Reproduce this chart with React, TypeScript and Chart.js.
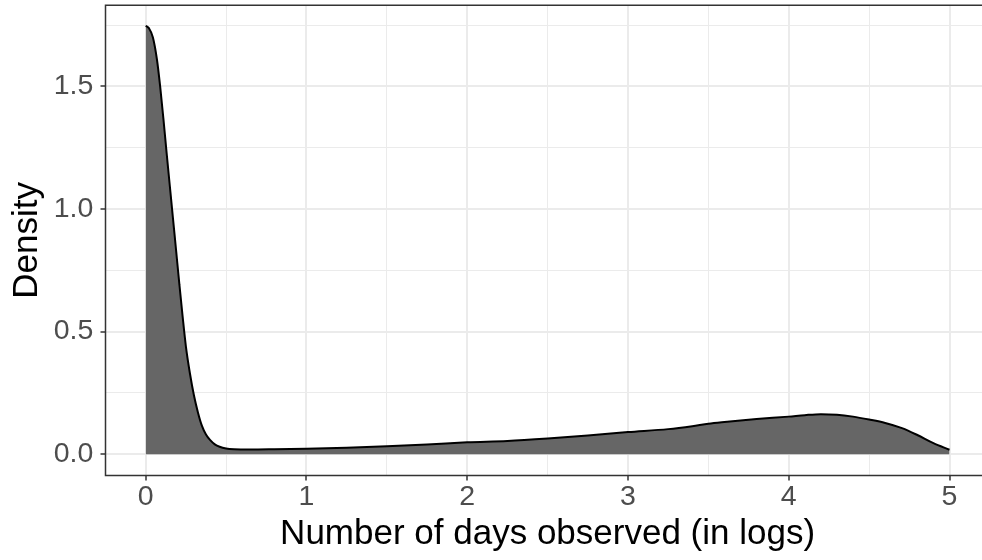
import React, { useEffect, useRef } from "react";
import { Chart, registerables } from "chart.js";

Chart.register(...registerables);

// Density curve (x = log number of days, y = density)
const xValues = [
  0, 0.02, 0.045, 0.07, 0.09, 0.11, 0.13, 0.15, 0.17, 0.19, 0.21, 0.23, 0.25, 0.275, 0.3,
  0.325, 0.35, 0.375, 0.4, 0.43, 0.46, 0.5, 0.55, 0.65, 0.8, 1.0, 1.25, 1.5, 1.75,
  2.0, 2.25, 2.5, 2.75, 3.0, 3.25, 3.4, 3.5, 3.6, 3.8, 4.0, 4.1, 4.2, 4.3, 4.4, 4.5,
  4.6, 4.7, 4.8, 4.9, 5.0,
];
const densityValues = [
  1.748, 1.738, 1.7, 1.61, 1.5, 1.37, 1.23, 1.095, 0.96, 0.825, 0.69, 0.56, 0.44, 0.33, 0.24,
  0.17, 0.115, 0.08, 0.058, 0.04, 0.03, 0.023, 0.02, 0.019, 0.02, 0.022, 0.026, 0.032, 0.039,
  0.048, 0.054, 0.064, 0.076, 0.09, 0.102, 0.114, 0.124, 0.131, 0.143, 0.153, 0.159, 0.163, 0.161, 0.153, 0.141,
  0.127, 0.107, 0.078, 0.045, 0.018,
];

const xGridValues = [0, 0.5, 1, 1.5, 2, 2.5, 3, 3.5, 4, 4.5, 5];
const xMajorTicks = [0, 1, 2, 3, 4, 5];
const yGridValues = [0, 0.25, 0.5, 0.75, 1, 1.25, 1.5, 1.75];
const yMajorTicks = [0, 0.5, 1, 1.5];

const xTitle = "Number of days observed (in logs)";
const yTitle = "Density";

const FONT = "'Liberation Sans', Arial, Helvetica, sans-serif";

const isMajor = (list: number[], v: number) => list.some((m) => Math.abs(m - v) < 1e-9);

// Panel border: top, left and bottom edges (the right edge lies outside the visible picture)
const panelBorder = {
  id: "panelBorder",
  afterDatasetsDraw(chart: any) {
    const { ctx, chartArea } = chart;
    const { left, right, top, bottom } = chartArea;
    ctx.save();
    ctx.strokeStyle = "#333333";
    ctx.lineWidth = 1.5;
    ctx.beginPath();
    ctx.moveTo(right, top);
    ctx.lineTo(left, top);
    ctx.lineTo(left, bottom);
    ctx.lineTo(right, bottom);
    ctx.stroke();
    ctx.restore();
  },
};

export default function App() {
  const ref = useRef<HTMLCanvasElement | null>(null);

  useEffect(() => {
    if (!ref.current) return;
    const chart = new Chart(ref.current, {
      type: "line",
      data: {
        datasets: [
          {
            data: xValues.map((x, i) => ({ x, y: densityValues[i] })),
            borderColor: "#000000",
            borderWidth: 2,
            backgroundColor: "#666666",
            fill: "origin",
            pointRadius: 0,
            cubicInterpolationMode: "monotone",
          },
        ],
      },
      options: {
        animation: false,
        responsive: false,
        devicePixelRatio: 1,
        layout: { padding: { top: 5.3, right: 10.3, left: 0, bottom: 0 } },
        plugins: { legend: { display: false }, tooltip: { enabled: false }, title: { display: false } },
        scales: {
          x: {
            type: "linear",
            min: -0.25,
            max: 5.25,
            afterBuildTicks: (scale: any) => {
              scale.ticks = xGridValues.map((v) => ({ value: v }));
            },
            afterFit: (scale: any) => {
              scale.height = 84.5;
              scale.paddingLeft = 0;
              scale.paddingRight = 0;
            },
            ticks: {
              autoSkip: false,
              maxRotation: 0,
              padding: 0,
              color: "#4D4D4D",
              font: { family: FONT, size: 28.5, lineHeight: 1.2 },
              callback: (v: any) => (isMajor(xMajorTicks, Number(v)) ? String(Number(v)) : ""),
            },
            grid: {
              color: "#EBEBEB",
              lineWidth: (c: any) => (c.tick && isMajor(xMajorTicks, c.tick.value) ? 2 : 1),
              tickColor: (c: any) => (c.tick && isMajor(xMajorTicks, c.tick.value) ? "#333333" : "rgba(0,0,0,0)"),
              tickWidth: 1.5,
              tickLength: 5,
              drawTicks: true,
            },
            border: { display: false },
            title: {
              display: true,
              text: xTitle,
              color: "#000000",
              font: { family: FONT, size: 35, lineHeight: 1 },
              padding: { top: 0, bottom: 8.5 },
            },
          },
          y: {
            type: "linear",
            min: -0.0872,
            max: 1.8312,
            afterBuildTicks: (scale: any) => {
              scale.ticks = yGridValues.map((v) => ({ value: v }));
            },
            afterFit: (scale: any) => {
              scale.width = 105.5;
              scale.paddingTop = 0;
              scale.paddingBottom = 0;
            },
            ticks: {
              autoSkip: false,
              padding: 7.2,
              color: "#4D4D4D",
              font: { family: FONT, size: 28.5, lineHeight: 1.2 },
              callback: (v: any) => (isMajor(yMajorTicks, Number(v)) ? Number(v).toFixed(1) : ""),
            },
            grid: {
              color: "#EBEBEB",
              lineWidth: (c: any) => (c.tick && isMajor(yMajorTicks, c.tick.value) ? 2 : 1),
              tickColor: (c: any) => (c.tick && isMajor(yMajorTicks, c.tick.value) ? "#333333" : "rgba(0,0,0,0)"),
              tickWidth: 1.5,
              tickLength: 5,
              drawTicks: true,
            },
            border: { display: false },
            title: {
              display: true,
              text: yTitle,
              color: "#000000",
              font: { family: FONT, size: 35, lineHeight: 1 },
              padding: { top: 9.7, bottom: 0 },
            },
          },
        },
      },
      plugins: [panelBorder],
    } as any);
    return () => chart.destroy();
  }, []);

  return (
    <div
      style={{
        position: "absolute",
        left: 0,
        top: 0,
        width: 982,
        height: 560,
        overflow: "hidden",
        background: "#ffffff",
      }}
    >
      <canvas ref={ref} width={1000} height={560} style={{ display: "block" }} />
    </div>
  );
}
